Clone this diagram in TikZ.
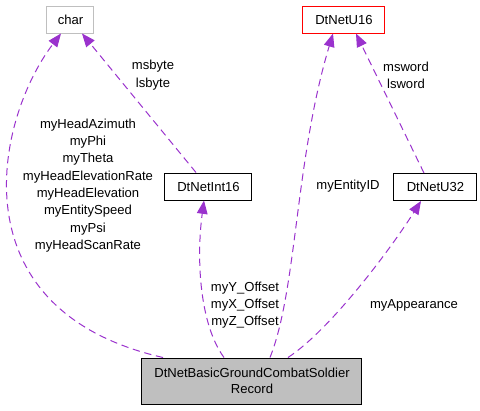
\documentclass[tikz,border=0pt]{standalone}
\usepackage{fontspec}
\setmainfont{Liberation Sans}
\usetikzlibrary{arrows.meta,calc}
\definecolor{edgec}{HTML}{9A32CD}
\definecolor{grayb}{HTML}{BFBFBF}
\begin{document}
\begin{tikzpicture}[x=0.75pt,y=-0.75pt,
  every node/.style={font=\fontsize{9.8}{13}\selectfont},
  cls/.style={draw=black,line width=0.75pt,inner sep=0pt,minimum height=20.25pt,align=center},
  lbl/.style={align=center,inner sep=0pt},
  dep/.style={draw=edgec,line width=0.75pt,dash pattern=on 5.5pt off 3.5pt,-{Triangle[length=10pt,width=8pt]}}]
\useasboundingbox (0,0) rectangle (480,411);
\node[cls,draw=grayb,minimum width=35.25pt] (char) at (70.5,19.5) {char};
\node[cls,draw=red,minimum width=61.5pt] (u16) at (344,19.5) {DtNetU16};
\node[cls,minimum width=65.25pt] (int16) at (208.5,186.5) {DtNetInt16};
\node[cls,minimum width=62.25pt] (u32) at (435.5,187) {DtNetU32};
\node[cls,fill=grayb,minimum width=165pt,minimum height=34.5pt,font=\fontsize{9.8}{12}\selectfont] (main) at (252,381) {DtNetBasicGroundCombatSoldier\\Record};
% edges
\draw[dep] ($(main.north)+(-89,0)$) .. controls (-45,310) and (-5,120) .. ($(char.south)+(-9.5,0)$);
\draw[dep] ($(int16.north)+(-12.5,0)$) -- ($(char.south)+(11.5,0)$);
\draw[dep] ($(main.north)+(-28,0)$) .. controls (200,325) and (196,260) .. ($(int16.south)+(-4.5,0)$);
\draw[dep] ($(main.north)+(18,0)$) .. controls (297,290) and (295,160) .. ($(u16.south)+(-11,0)$);
\draw[dep] ($(u32.north)+(-11.5,0)$) -- ($(u16.south)+(12,0)$);
\draw[dep] ($(main.north)+(36,0)$) .. controls (330,330) and (390,250) .. ($(u32.south)+(-14.5,0)$);
% labels
\node[lbl] (l1) at (88,185.5) {myHeadAzimuth\\myPhi\\myTheta\\myHeadElevationRate\\myHeadElevation\\myEntitySpeed\\myPsi\\myHeadScanRate};
\node[lbl] (l2) at (153,75) {msbyte\\lsbyte};
\node[lbl] (l3) at (245,305) {myY\_Offset\\myX\_Offset\\myZ\_Offset};
\node[lbl] (l4) at (348,186) {myEntityID};
\node[lbl] (l5) at (406,75) {msword\\lsword};
\node[lbl] (l6) at (414,305) {myAppearance};
\end{tikzpicture}
\end{document}
